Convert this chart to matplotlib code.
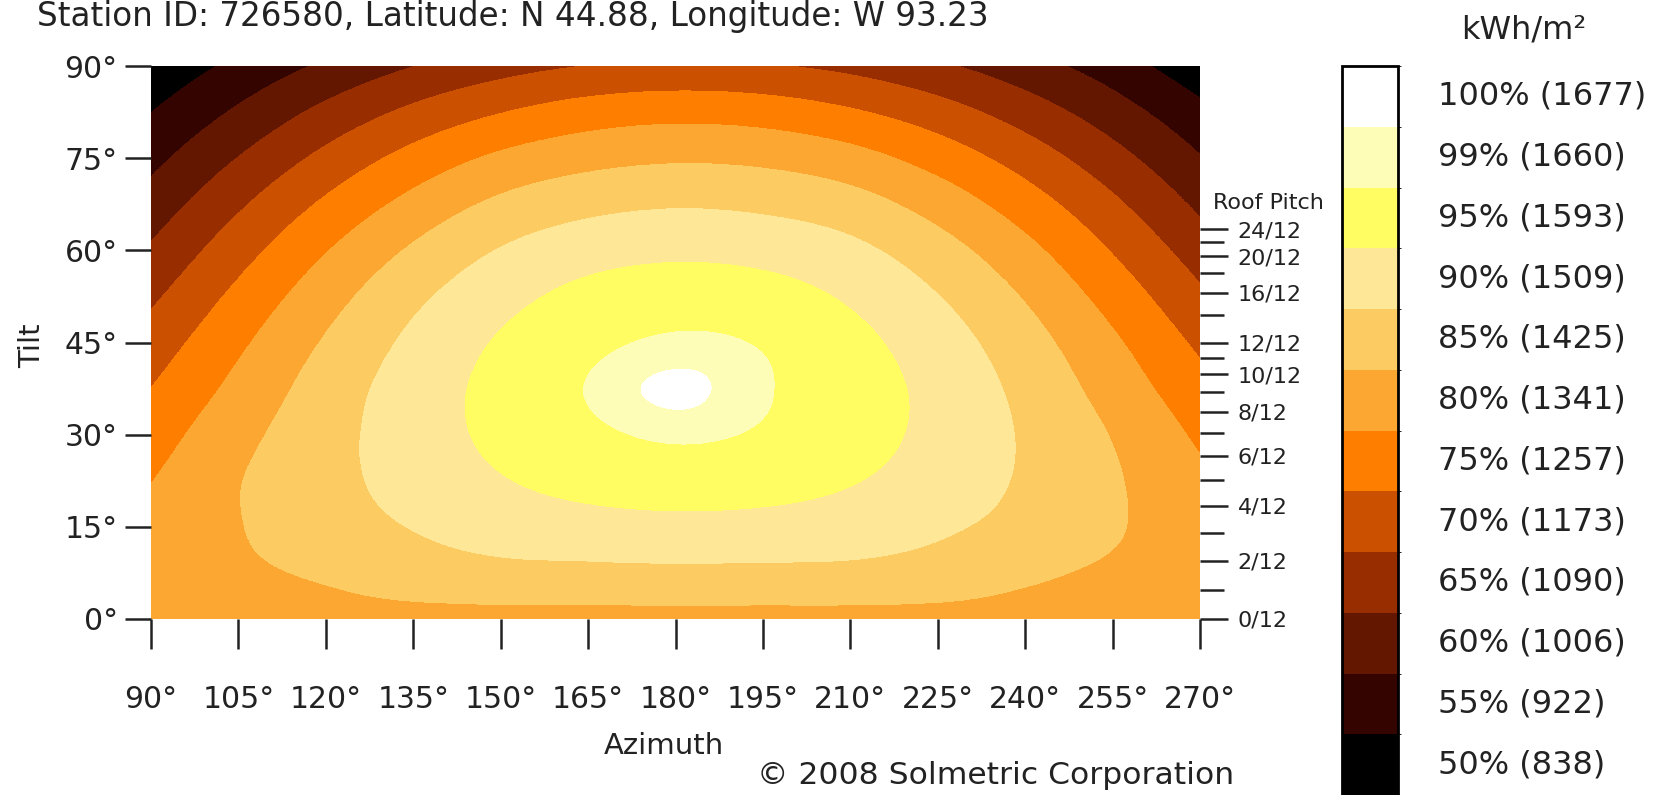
import numpy as np
import matplotlib
matplotlib.use('Agg')
import matplotlib.pyplot as plt
from matplotlib.colors import ListedColormap, BoundaryNorm
from matplotlib.cm import ScalarMappable

# Azimuth (columns) and tilt (rows) of the grid, in degrees
azimuth = [90, 105, 120, 135, 150, 165, 180, 195, 210, 225, 240, 255, 270]
tilt = [0, 7.5, 15, 22.5, 30, 37.5, 45, 52.5, 60, 67.5, 75, 82.5, 90]

# Percent of the best orientation (row = tilt, column = azimuth)
percent_of_max = [
    [83.3, 83.3, 83.3, 83.3, 83.3, 83.3, 83.3, 83.3, 83.3, 83.3, 83.3, 83.3, 83.3],
    [83.1, 84.3, 85.6, 87.6, 88.6, 88.8, 89.0, 88.9, 88.8, 87.9, 85.8, 84.4, 83.5],
    [81.7, 84.8, 87.7, 90.2, 92.2, 93.2, 93.6, 93.4, 92.6, 90.8, 88.4, 85.5, 82.5],
    [79.9, 84.8, 88.4, 91.9, 94.7, 96.5, 97.3, 96.8, 95.3, 92.8, 89.4, 85.6, 81.1],
    [77.7, 83.5, 88.2, 92.6, 96.1, 98.4, 99.3, 98.7, 96.8, 93.7, 89.5, 84.8, 79.2],
    [75.1, 81.4, 87.3, 92.4, 96.4, 99.1, 100.0, 99.2, 97.2, 93.6, 88.7, 83.0, 76.8],
    [72.3, 79.1, 85.5, 91.1, 95.5, 98.3, 99.3, 98.8, 96.4, 92.4, 87.1, 80.9, 74.1],
    [69.1, 76.3, 83.0, 88.9, 93.4, 96.4, 97.6, 96.9, 94.4, 90.2, 84.7, 78.1, 71.0],
    [65.7, 73.0, 79.8, 85.7, 90.3, 93.0, 94.0, 93.4, 91.3, 87.1, 81.5, 74.8, 67.7],
    [62.2, 69.3, 75.9, 81.6, 86.1, 88.6, 89.6, 89.0, 87.1, 83.0, 77.5, 71.1, 64.1],
    [58.6, 65.2, 71.4, 76.8, 81.0, 83.4, 84.4, 83.9, 81.9, 78.0, 72.9, 66.9, 60.4],
    [55.0, 60.8, 66.4, 71.2, 74.9, 77.4, 78.4, 77.8, 75.7, 72.3, 67.7, 62.4, 56.5],
    [51.3, 56.3, 60.9, 65.0, 68.1, 70.2, 71.0, 70.5, 68.8, 65.9, 62.1, 57.6, 51.8],
]

# Legend bands
band_levels = [50, 55, 60, 65, 70, 75, 80, 85, 90, 95, 99, 99.85, 101]
band_colors = ['#000000', '#330400', '#631600', '#982e00', '#cb5000', '#fe7f00',
               '#fba732', '#fccb61', '#fee898', '#fffd62', '#fefdb7', '#ffffff']
band_labels = ['50% (838)', '55% (922)', '60% (1006)', '65% (1090)', '70% (1173)',
               '75% (1257)', '80% (1341)', '85% (1425)', '90% (1509)', '95% (1593)',
               '99% (1660)', '100% (1677)']

# Roof pitch scale (rise per 12)
pitch = [0, 1, 2, 3, 4, 5, 6, 7, 8, 9, 10, 11, 12, 14, 16, 18, 20, 22, 24]
pitch_labeled = [0, 2, 4, 6, 8, 10, 12, 16, 20, 24]

W, H = 1659, 795
txt = '#222222'
plt.rcParams['font.family'] = ['DejaVu Sans']

fig = plt.figure(figsize=(W / 100, H / 100), dpi=100)
ax = fig.add_axes([151 / W, 1 - 619 / H, 1049 / W, 553 / H])

cmap = ListedColormap(band_colors)
norm = BoundaryNorm(band_levels, cmap.N)

# pad one cell on every side (linear extension) so the smoothing has no flat edges
grid = np.pad(np.array(percent_of_max), 1, mode='reflect', reflect_type='odd')
daz = azimuth[1] - azimuth[0]
dt = tilt[1] - tilt[0]
ext = [azimuth[0] - 1.5 * daz, azimuth[-1] + 1.5 * daz, tilt[0] - 1.5 * dt, tilt[-1] + 1.5 * dt]
ax.imshow(grid, origin='lower', extent=ext, cmap=cmap, norm=norm,
          interpolation='catrom', interpolation_stage='data', aspect='auto')
ax.set_xlim(azimuth[0], azimuth[-1])
ax.set_ylim(tilt[0], tilt[-1])
for s in ax.spines.values():
    s.set_visible(False)

ax.set_xticks(azimuth)
ax.set_xticklabels([f'{a}°' for a in azimuth])
ax.set_yticks(np.arange(0, 91, 15))
ax.set_yticklabels([f'{v}°' for v in range(0, 91, 15)])
ax.tick_params(axis='x', length=21.6, width=1.8, pad=26, labelsize=21.5, colors=txt)
ax.tick_params(axis='y', length=19, width=1.8, pad=5, labelsize=21.5, colors=txt)

# Roof pitch axis on the right
ax2 = ax.twinx()
ax2.set_ylim(tilt[0], tilt[-1])
for s in ax2.spines.values():
    s.set_visible(False)
pitch_deg = np.degrees(np.arctan(np.array(pitch) / 12))
major = [p for p, n in zip(pitch_deg, pitch) if n in pitch_labeled]
minor = [p for p, n in zip(pitch_deg, pitch) if n not in pitch_labeled]
ax2.set_yticks(major)
ax2.set_yticklabels([f'{n}/12' for n in pitch_labeled])
ax2.set_yticks(minor, minor=True)
ax2.tick_params(axis='y', which='major', length=20, width=1.8, pad=7, labelsize=16, colors=txt)
ax2.tick_params(axis='y', which='minor', length=17, width=1.8, colors=txt)
fig.text(1268 / W, 1 - 203 / H, 'Roof Pitch', ha='center', va='center', fontsize=16, color=txt)

# Legend bar
cax = fig.add_axes([1342 / W, 0, 56 / W, 729 / H])
cb = fig.colorbar(ScalarMappable(norm=norm, cmap=cmap), cax=cax, spacing='uniform')
cb.set_ticks([])
cb.outline.set_linewidth(2)
for i, lab in enumerate(band_labels):
    fig.text(1438 / W, (i + 0.5) / 12 * 729 / H, lab, ha='left', va='center',
             fontsize=23, color=txt)
fig.text(1524 / W, 1 - 38 / H, 'kWh/m²', ha='center', va='baseline', fontsize=23, color=txt)

# Titles and labels
fig.text(37 / W, 1 - 26 / H, 'Station ID: 726580, Latitude: N 44.88, Longitude: W 93.23',
         ha='left', va='baseline', fontsize=23.5, color=txt)
fig.text(664 / W, 1 - 746 / H, 'Azimuth', ha='center', va='center', fontsize=21, color=txt)
fig.text(32 / W, 1 - 346 / H, 'Tilt', ha='center', va='center', rotation=90, fontsize=21, color=txt)
fig.text(996 / W, 1 - 776 / H, '© 2008 Solmetric Corporation', ha='center', va='center',
         fontsize=22.6, color=txt)

fig.savefig('out.png', dpi=100)
